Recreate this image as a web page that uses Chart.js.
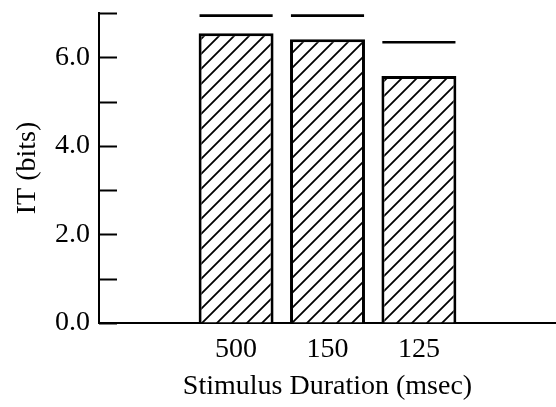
<!DOCTYPE html>
<html lang="en">
<head>
    <meta charset="UTF-8">
    <title>IT by Stimulus Duration</title>
    <script src="https://cdn.jsdelivr.net/npm/chart.js"></script>
    <style>
        html, body { margin: 0; padding: 0; background: #fff; }
        #wrap { width: 556px; height: 407px; }
    </style>
</head>
<body>
    <div id="wrap"><canvas id="itChart" width="556" height="407"></canvas></div>

    <script>
    // data
    const durations = ['', '500', '150', '125', ''];
    const itBits = [null, 6.54, 6.41, 5.58, null];
    const upperMarks = [null, 6.94, 6.94, 6.34, null];
    const yTicks = [0, 1, 2, 3, 4, 5, 6, 7];

    const serif = 'Liberation Serif, Times New Roman, serif';

    // diagonal hatch fill
    function makeHatch() {
        const s = 15;
        const c = document.createElement('canvas');
        c.width = s; c.height = s;
        const g = c.getContext('2d');
        g.fillStyle = '#fff';
        g.fillRect(0, 0, s, s);
        g.strokeStyle = '#000';
        g.lineWidth = 1.8;
        g.beginPath();
        g.moveTo(0, s); g.lineTo(s, 0);
        g.moveTo(-2, 2); g.lineTo(2, -2);
        g.moveTo(s - 2, s + 2); g.lineTo(s + 2, s - 2);
        g.stroke();
        return g.createPattern(c, 'repeat');
    }

    const markBar = 0.03;

    // tick marks drawn inside the plot, on the y axis
    const innerTicks = {
        id: 'innerTicks',
        afterDraw(chart) {
            const ctx = chart.ctx;
            const y = chart.scales.y;
            const left = chart.chartArea.left;
            ctx.save();
            ctx.strokeStyle = '#000';
            ctx.lineWidth = 2;
            yTicks.forEach(v => {
                const py = Math.round(y.getPixelForValue(v)) + 0.5;
                ctx.beginPath();
                ctx.moveTo(left, py);
                ctx.lineTo(left + 18, py);
                ctx.stroke();
            });
            ctx.restore();
        }
    };

    new Chart(document.getElementById('itChart'), {
        type: 'bar',
        data: {
            labels: durations,
            datasets: [
                {
                    label: 'IT',
                    data: itBits,
                    backgroundColor: makeHatch(),
                    borderColor: '#000',
                    borderWidth: 3,
                    grouped: false,
                    barPercentage: 0.82,
                    categoryPercentage: 1
                },
                {
                    label: 'upper',
                    data: upperMarks.map(v => v === null ? null : [v - markBar, v + markBar]),
                    backgroundColor: '#000',
                    borderWidth: 0,
                    grouped: false,
                    barPercentage: 0.8,
                    categoryPercentage: 1
                }
            ]
        },
        options: {
            responsive: false,
            animation: false,
            layout: { padding: { top: 13, left: 0, right: 0, bottom: 0 } },
            plugins: {
                legend: { display: false },
                tooltip: { enabled: false }
            },
            scales: {
                x: {
                    grid: { display: true, drawOnChartArea: false, drawTicks: false },
                    border: { color: '#000', width: 2 },
                    ticks: {
                        color: '#000',
                        padding: 10,
                        font: { family: serif, size: 28 }
                    },
                    title: {
                        display: true,
                        text: 'Stimulus Duration (msec)',
                        color: '#000',
                        font: { family: serif, size: 28 },
                        padding: { top: 0, bottom: 4 }
                    },
                    afterFit(scale) {
                        scale.height = 84;
                        scale.paddingLeft = 0;
                        scale.paddingRight = 0;
                    }
                },
                y: {
                    min: 0,
                    max: 7,
                    afterBuildTicks(scale) {
                        scale.ticks = yTicks.map(v => ({ value: v }));
                    },
                    grid: { display: true, drawOnChartArea: false, drawTicks: false },
                    border: { color: '#000', width: 2 },
                    ticks: {
                        color: '#000',
                        padding: 9,
                        font: { family: serif, size: 28 },
                        callback: v => (v % 2 === 0 ? v.toFixed(1) : '')
                    },
                    title: {
                        display: true,
                        text: 'IT (bits)',
                        color: '#000',
                        font: { family: serif, size: 28 },
                        padding: { top: 11, bottom: 0 }
                    },
                    afterFit(scale) {
                        scale.width = 99;
                        scale.paddingTop = 0;
                        scale.paddingBottom = 0;
                    }
                }
            }
        },
        plugins: [innerTicks]
    });
    </script>
</body>
</html>
